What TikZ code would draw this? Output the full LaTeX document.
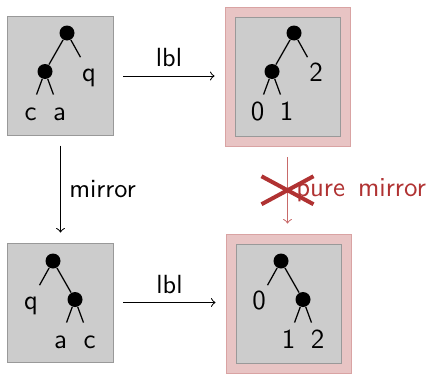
\documentclass[tikz,border=0pt]{standalone}
\usepackage{fontspec}
\usetikzlibrary{calc}
\definecolor{boxfill}{HTML}{CCCCCC}
\definecolor{boxline}{HTML}{999999}
\definecolor{hlfill}{HTML}{E8C4C4}
\definecolor{hlline}{HTML}{D9A3A3}
\definecolor{crossred}{HTML}{B03232}
\definecolor{faintred}{HTML}{C86A6A}

\begin{document}
\begin{tikzpicture}[x=0.4pt,y=-0.4pt, font=\sffamily,
  treebox/.style={draw=boxline, fill=boxfill, line width=0.4pt,
    minimum width=42pt, minimum height=47.6pt, inner sep=0},
  hlbox/.style={draw=hlline, fill=hlfill, line width=0.4pt,
    minimum width=50pt, minimum height=55.6pt, inner sep=0},
  treedot/.style={circle, fill=black, minimum size=6pt, inner sep=0},
  leaflabel/.style={circle, inner sep=0, minimum size=13.6pt,
    text height=7.2pt, text depth=0pt,
    font=\sffamily\fontsize{11}{13}\selectfont},
  branch/.style={line width=0.5pt},
  maplabel/.style={font=\sffamily\fontsize{10.5}{12}\selectfont},
  maparrow/.style={->, line width=0.4pt, shorten <=3.8pt, shorten >=4pt},
  faintarrow/.style={->, draw=faintred, line width=0.4pt, shorten <=4pt, shorten >=4pt},
  crossline/.style={draw=crossred, line width=1.6pt},
]
\useasboundingbox (0,0) rectangle (426,373);

% frames
\node[treebox] (tl) at (60.5,76) {};
\node[hlbox] (trhl) at (287.5,77) {};
\node[treebox] (tr) at (287.5,77) {};
\node[treebox] (bl) at (60.5,302.5) {};
\node[hlbox] (brhl) at (288.5,303.5) {};
\node[treebox] (br) at (288.5,303.5) {};

% tree: ((c a) q)
\begin{scope}[shift={(67,33)}]
  \node[treedot] (t1r) at (0,0) {};
  \node[treedot] (t1n) at (-22,38.5) {};
  \node[leaflabel] (t1q) at (22,39.5) {q};
  \node[leaflabel] (t1c) at (-36.5,78) {c};
  \node[leaflabel] (t1a) at (-7.5,78) {a};
  \draw[branch] (t1r) -- (t1n) (t1r) -- (t1q) (t1n) -- (t1c) (t1n) -- (t1a);
\end{scope}

% tree: ((0 1) 2)
\begin{scope}[shift={(294,33)}]
  \node[treedot] (t2r) at (0,0) {};
  \node[treedot] (t2n) at (-22,38.5) {};
  \node[leaflabel] (t2c) at (22,39.5) {2};
  \node[leaflabel] (t2a) at (-36.5,78) {0};
  \node[leaflabel] (t2b) at (-7.5,78) {1};
  \draw[branch] (t2r) -- (t2n) (t2r) -- (t2c) (t2n) -- (t2a) (t2n) -- (t2b);
\end{scope}

% tree: (q (a c))
\begin{scope}[shift={(53,261)}]
  \node[treedot] (t3r) at (0,0) {};
  \node[treedot] (t3n) at (22,38.5) {};
  \node[leaflabel] (t3q) at (-22,39.5) {q};
  \node[leaflabel] (t3a) at (7.5,78) {a};
  \node[leaflabel] (t3c) at (36.5,78) {c};
  \draw[branch] (t3r) -- (t3n) (t3r) -- (t3q) (t3n) -- (t3a) (t3n) -- (t3c);
\end{scope}

% tree: (0 (1 2))
\begin{scope}[shift={(281,261)}]
  \node[treedot] (t4r) at (0,0) {};
  \node[treedot] (t4n) at (22,38.5) {};
  \node[leaflabel] (t4a) at (-22,39.5) {0};
  \node[leaflabel] (t4b) at (7.5,78) {1};
  \node[leaflabel] (t4c) at (36.5,78) {2};
  \draw[branch] (t4r) -- (t4n) (t4r) -- (t4a) (t4n) -- (t4b) (t4n) -- (t4c);
\end{scope}

% maps between the frames
\draw[maparrow] (tl.east) -- (tl.east -| trhl.west) node[midway, above, maplabel] {lbl};
\draw[maparrow] (bl.east) -- (bl.east -| brhl.west) node[midway, above, maplabel] {lbl};
\draw[maparrow] (tl.south) -- (tl.south |- bl.north) node[midway, right, maplabel] {mirror};
\draw[faintarrow] (trhl.south) -- (trhl.south |- brhl.north)
  node[midway, right, text=crossred, font=\sffamily\fontsize{11}{13}\selectfont]
  {pure\hspace{0.15em} mirror};

% strike-out over the failed map
\coordinate (xm) at ($(trhl.south)!0.5!(trhl.south |- brhl.north)$);
\draw[crossline] ($(xm)+(-26,-14)$) -- ($(xm)+(26,14)$)
                 ($(xm)+(-26,14)$) -- ($(xm)+(26,-14)$);
\end{tikzpicture}
\end{document}
